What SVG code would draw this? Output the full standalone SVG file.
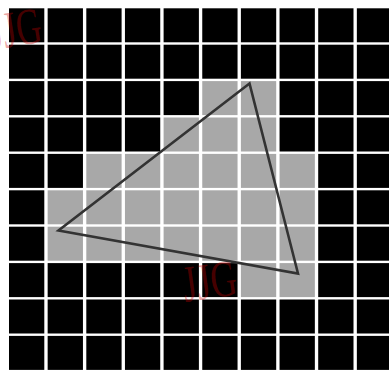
<svg xmlns="http://www.w3.org/2000/svg" width="389" height="370" viewBox="0 0 389 370">
<style>
.b{fill:#000}
.g{fill:#a8a8a8}
.wm{font-family:"Liberation Serif",serif;font-size:52px;fill:#cc0000;fill-opacity:0.36}
</style>
<defs>
<rect id="c" width="35.3" height="34"/>
</defs>
<rect width="389" height="370" fill="#fff"/>
<g id="grid">
<g class="b">
<use href="#c" x="9" y="8.3"/><use href="#c" x="47.65" y="8.3"/><use href="#c" x="86.3" y="8.3"/><use href="#c" x="124.95" y="8.3"/><use href="#c" x="163.6" y="8.3"/><use href="#c" x="202.25" y="8.3"/><use href="#c" x="240.9" y="8.3"/><use href="#c" x="279.55" y="8.3"/><use href="#c" x="318.2" y="8.3"/><use href="#c" x="356.85" y="8.3"/>
<use href="#c" x="9" y="44.7"/><use href="#c" x="47.65" y="44.7"/><use href="#c" x="86.3" y="44.7"/><use href="#c" x="124.95" y="44.7"/><use href="#c" x="163.6" y="44.7"/><use href="#c" x="202.25" y="44.7"/><use href="#c" x="240.9" y="44.7"/><use href="#c" x="279.55" y="44.7"/><use href="#c" x="318.2" y="44.7"/><use href="#c" x="356.85" y="44.7"/>
<use href="#c" x="9" y="81.1"/><use href="#c" x="47.65" y="81.1"/><use href="#c" x="86.3" y="81.1"/><use href="#c" x="124.95" y="81.1"/><use href="#c" x="163.6" y="81.1"/><use href="#c" x="279.55" y="81.1"/><use href="#c" x="318.2" y="81.1"/><use href="#c" x="356.85" y="81.1"/>
<use href="#c" x="9" y="117.5"/><use href="#c" x="47.65" y="117.5"/><use href="#c" x="86.3" y="117.5"/><use href="#c" x="124.95" y="117.5"/><use href="#c" x="279.55" y="117.5"/><use href="#c" x="318.2" y="117.5"/><use href="#c" x="356.85" y="117.5"/>
<use href="#c" x="9" y="153.9"/><use href="#c" x="47.65" y="153.9"/><use href="#c" x="318.2" y="153.9"/><use href="#c" x="356.85" y="153.9"/>
<use href="#c" x="9" y="190.3"/><use href="#c" x="318.2" y="190.3"/><use href="#c" x="356.85" y="190.3"/>
<use href="#c" x="9" y="226.7"/><use href="#c" x="318.2" y="226.7"/><use href="#c" x="356.85" y="226.7"/>
<use href="#c" x="9" y="263.1"/><use href="#c" x="47.65" y="263.1"/><use href="#c" x="86.3" y="263.1"/><use href="#c" x="124.95" y="263.1"/><use href="#c" x="163.6" y="263.1"/><use href="#c" x="202.25" y="263.1"/><use href="#c" x="318.2" y="263.1"/><use href="#c" x="356.85" y="263.1"/>
<use href="#c" x="9" y="299.5"/><use href="#c" x="47.65" y="299.5"/><use href="#c" x="86.3" y="299.5"/><use href="#c" x="124.95" y="299.5"/><use href="#c" x="163.6" y="299.5"/><use href="#c" x="202.25" y="299.5"/><use href="#c" x="240.9" y="299.5"/><use href="#c" x="279.55" y="299.5"/><use href="#c" x="318.2" y="299.5"/><use href="#c" x="356.85" y="299.5"/>
<use href="#c" x="9" y="335.9"/><use href="#c" x="47.65" y="335.9"/><use href="#c" x="86.3" y="335.9"/><use href="#c" x="124.95" y="335.9"/><use href="#c" x="163.6" y="335.9"/><use href="#c" x="202.25" y="335.9"/><use href="#c" x="240.9" y="335.9"/><use href="#c" x="279.55" y="335.9"/><use href="#c" x="318.2" y="335.9"/><use href="#c" x="356.85" y="335.9"/>
</g>
<g class="g">
<use href="#c" x="202.25" y="81.1"/><use href="#c" x="240.9" y="81.1"/>
<use href="#c" x="163.6" y="117.5"/><use href="#c" x="202.25" y="117.5"/><use href="#c" x="240.9" y="117.5"/>
<use href="#c" x="86.3" y="153.9"/><use href="#c" x="124.95" y="153.9"/><use href="#c" x="163.6" y="153.9"/><use href="#c" x="202.25" y="153.9"/><use href="#c" x="240.9" y="153.9"/><use href="#c" x="279.55" y="153.9"/>
<use href="#c" x="47.65" y="190.3"/><use href="#c" x="86.3" y="190.3"/><use href="#c" x="124.95" y="190.3"/><use href="#c" x="163.6" y="190.3"/><use href="#c" x="202.25" y="190.3"/><use href="#c" x="240.9" y="190.3"/><use href="#c" x="279.55" y="190.3"/>
<use href="#c" x="47.65" y="226.7"/><use href="#c" x="86.3" y="226.7"/><use href="#c" x="124.95" y="226.7"/><use href="#c" x="163.6" y="226.7"/><use href="#c" x="202.25" y="226.7"/><use href="#c" x="240.9" y="226.7"/><use href="#c" x="279.55" y="226.7"/>
<use href="#c" x="240.9" y="263.1"/><use href="#c" x="279.55" y="263.1"/>
</g>
</g>
<g id="triangle">
<polygon points="249.5,83.5 58.5,230.5 298,273.5" fill="none" stroke="#333" stroke-width="2.6"/>
</g>
<g id="watermarks">
<text class="wm" x="0" y="0" textLength="52" lengthAdjust="spacingAndGlyphs" transform="translate(-8,50) rotate(-9)">JJG</text>
<text class="wm" x="0" y="0" textLength="54" lengthAdjust="spacingAndGlyphs" transform="translate(185,302) rotate(-8)">JJG</text>
<text class="wm" x="0" y="0" textLength="52" lengthAdjust="spacingAndGlyphs" transform="translate(-50,366) rotate(-8)">JJG</text>
</g>
</svg>
